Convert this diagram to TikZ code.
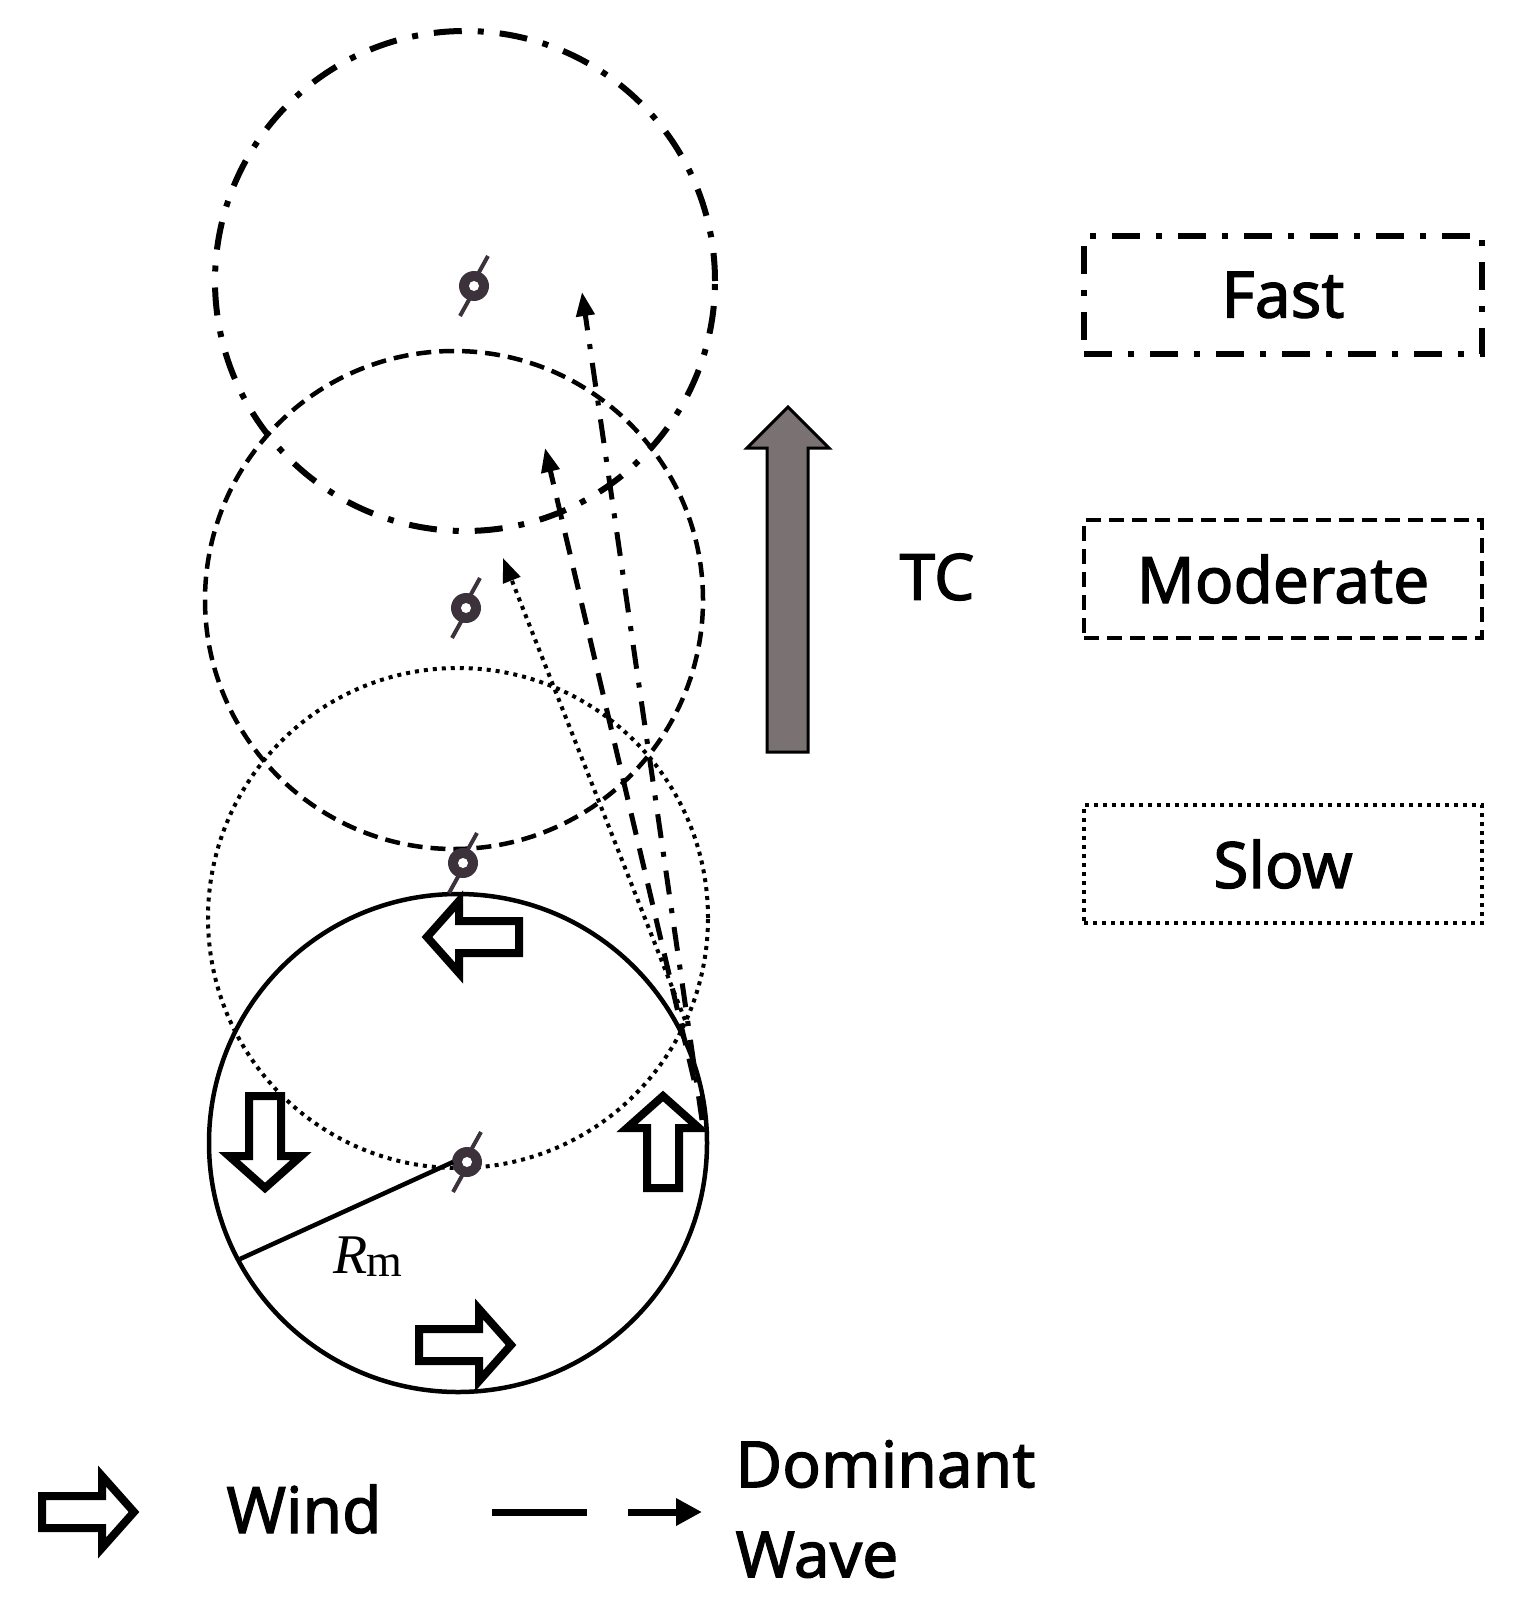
\documentclass[tikz,border=0pt]{standalone}
\usepackage{fontspec}
\setmainfont{Liberation Serif}
\newfontfamily\sansf[FakeBold=1.8]{Noto Sans}
\usetikzlibrary{arrows.meta}
\definecolor{tcgray}{RGB}{122,114,114}
\definecolor{cycc}{RGB}{60,50,60}
\begin{document}
\begin{tikzpicture}[x=1pt,y=-1pt,
  fastl/.style={line width=6pt,dash pattern=on 28pt off 16pt on 6pt off 16pt},
  modl/.style={line width=4.5pt,dash pattern=on 15pt off 8pt},
  slowl/.style={line width=4pt,dash pattern=on 4pt off 5pt},
  box/.style={draw,minimum width=398pt,minimum height=118pt,font=\sansf\fontsize{64}{70}\selectfont},
  wav/.style={-{Triangle[length=24pt,width=18pt]}},
  windarrow/.pic={\draw[line width=8pt,fill=white,line join=miter]
     (-46,0)--(-14,-36)--(-14,-16)--(46,-16)--(46,16)--(-14,16)--(-14,36)--cycle;},
  cyc/.pic={\fill[cycc] (0,0) circle (15pt);\fill[white] (0,0) circle (5pt);
     \draw[line width=4pt,cycc] (4,-12)--(14,-30) (-4,12)--(-14,30);}]
\useasboundingbox (0,0) rectangle (1512,1608);
% circles
\node[draw,circle,fastl,minimum size=500pt] (cf) at (465,281) {};
\node[draw,circle,modl,minimum size=498pt] (cm) at (454,600) {};
\node[draw,circle,slowl,minimum size=500pt] (cs) at (458,918) {};
\node[draw,circle,line width=4.5pt,minimum size=498pt] (c0) at (458,1143) {};
% cyclone symbols
\pic at (474,286) {cyc};
\pic at (466,608) {cyc};
\pic at (463,863) {cyc};
\pic at (467,1162) {cyc};
% Rm
\coordinate (ctr) at (453,1162);
\coordinate (rim) at (240,1259);
\draw[line width=4.5pt] (rim)--(ctr);
\node (rm) at (368,1257) {\fontsize{56}{60}\selectfont\textit{R}\kern-1pt\raisebox{-3pt}{\fontsize{46}{50}\selectfont m}};
% wind arrows
\pic at (473,937) {windarrow};
\pic[rotate=90] at (265,1142) {windarrow};
\pic[rotate=-90] at (663,1142) {windarrow};
\pic[rotate=180] at (465,1345) {windarrow};
% wave arrows
\coordinate (ws) at (685,1020);
\coordinate (wse) at (694,1080);
\coordinate (wsf) at (702,1120);
\coordinate (wt1) at (503,558);
\coordinate (wt2) at (545,448);
\coordinate (wt3) at (582,292);
\draw[wav,slowl] (ws)--(wt1);
\draw[wav,line width=5pt,dash pattern=on 22pt off 14pt] (wse)--(wt2);
\draw[wav,line width=5pt,dash pattern=on 24pt off 14pt on 5pt off 14pt] (wsf)--(wt3);
% TC arrow
\draw[line width=3pt,fill=tcgray] (767,752)--(767,448)--(747,448)--(788,407)--(829,448)--(808,448)--(808,752)--cycle;
\node[font=\sansf\fontsize{64}{70}\selectfont] (tc) at (937,577) {TC};
% legend boxes
\node[box,fastl] (bf) at (1283,295) {Fast};
\node[box,modl] (bm) at (1283,579) {Moderate};
\node[box,slowl] (bs) at (1283,864) {Slow};
% bottom legend
\pic[rotate=180] at (88,1512) {windarrow};
\node[font=\sansf\fontsize{64}{70}\selectfont] (wl) at (304,1509) {Wind};
\coordinate (d1) at (492,1512);\coordinate (d2) at (587,1512);
\coordinate (d3) at (628,1512);\coordinate (d4) at (702,1512);
\draw[line width=7pt] (d1)--(d2);
\draw[line width=7pt,-{Triangle[length=26pt,width=26pt]}] (d3)--(d4);
\node[font=\sansf\fontsize{64}{90}\selectfont,align=left,anchor=west] (dw) at (732,1509) {Dominant\\Wave};
\end{tikzpicture}
\end{document}
